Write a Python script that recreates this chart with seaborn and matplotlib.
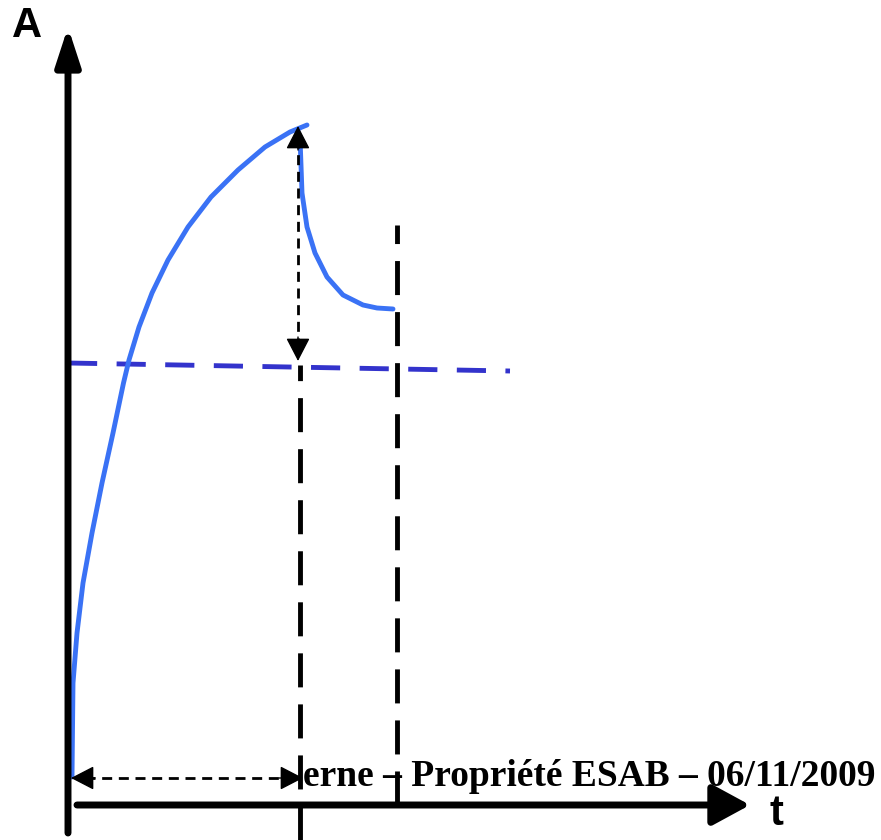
import numpy as np
import pandas as pd
import matplotlib
matplotlib.use("Agg")
import matplotlib.pyplot as plt
import seaborn as sns

# schematic coordinates (t to the right, A upwards)
rise_t = [72, 73, 77, 83, 92, 102, 113, 123.5, 129, 139, 152, 168, 188, 211, 238, 265, 290, 307]
rise_a = [63, 157, 207, 257, 307, 357, 407, 457, 480, 513, 547, 580, 613, 643, 670, 693, 708, 715]
decay_t = [300, 300, 302, 307, 315, 327, 343, 363, 377, 393]
decay_a = [715, 690, 647, 613, 587, 563, 545, 535, 532, 531]
level_t = [68, 510]
level_a = [477, 469]
t_peak = 300
t_end = 397
a_peak = 715
a_level = 477
a_span = 62
footer = "erne – Propriété ESAB – 06/11/2009"

sns.set_style("white")

fig = plt.figure(figsize=(8.81, 8.40), dpi=100)
ax = fig.add_axes([0, 0, 1, 1])
ax.set_xlim(0, 881)
ax.set_ylim(0, 840)
ax.axis("off")

rise = pd.DataFrame({"t": rise_t, "A": rise_a})
decay = pd.DataFrame({"t": decay_t, "A": decay_a})
level = pd.DataFrame({"t": level_t, "A": level_a})

sns.lineplot(data=rise, x="t", y="A", color="#3a72f5", lw=3.5, sort=False, ax=ax, zorder=3)
sns.lineplot(data=decay, x="t", y="A", color="#3a72f5", lw=3.5, sort=False, ax=ax, zorder=3)
sns.lineplot(data=level, x="t", y="A", color="#3333cc", lw=3.5, ax=ax, zorder=2)
ax.lines[-1].set_dashes([6, 4])
for ln in ax.lines:
    ln.set_solid_joinstyle("round")
    ln.set_solid_capstyle("round")

# vertical dashed markers
ax.plot([t_peak, t_peak], [0, a_level - 2], color="black", lw=3.5, dashes=[7, 3.5], zorder=2)
ax.plot([t_end, t_end], [35, 615], color="black", lw=3.5, dashes=[7, 3.5], zorder=2)

# double arrows: dashed shaft + filled heads
ax.plot([298, 298], [a_level + 15, a_peak - 15], color="black", lw=2, dashes=[3.6, 2.4], zorder=4)
ax.plot([85, t_peak - 12], [a_span, a_span], color="black", lw=2, dashes=[3.6, 2.4], zorder=4)
head = dict(arrowstyle="-|>,head_length=1.45,head_width=0.75", color="black",
            lw=1, shrinkA=0, shrinkB=0)
ax.annotate("", xy=(298, a_peak - 1), xytext=(298, a_peak - 25), arrowprops=head, zorder=4)
ax.annotate("", xy=(298, a_level + 2), xytext=(298, a_level + 26), arrowprops=head, zorder=4)
ax.annotate("", xy=(71, a_span), xytext=(95, a_span), arrowprops=head, zorder=4)
ax.annotate("", xy=(t_peak + 3, a_span), xytext=(t_peak - 21, a_span), arrowprops=head, zorder=4)

# axes arrows
ax.annotate("", xy=(68, 813), xytext=(68, 7),
            arrowprops=dict(arrowstyle="-|>,head_length=2.3,head_width=0.75", color="black",
                            lw=5, shrinkA=0, shrinkB=0), zorder=5)
ax.annotate("", xy=(750, 35), xytext=(77, 35),
            arrowprops=dict(arrowstyle="-|>,head_length=2.3,head_width=1.25", color="black",
                            lw=5, shrinkA=0, shrinkB=0), zorder=5)

ax.text(27, 814, "A", fontsize=30, fontweight="bold", family="Liberation Sans",
        color="black", ha="center", va="center")
ax.text(776, 26, "t", fontsize=30, fontweight="bold", family="Liberation Sans",
        color="black", ha="center", va="center")
ax.text(303, 64, footer, fontsize=27, fontweight="bold", family="Liberation Serif",
        color="black", ha="left", va="center", zorder=6)

fig.savefig("out.png", dpi=100)
